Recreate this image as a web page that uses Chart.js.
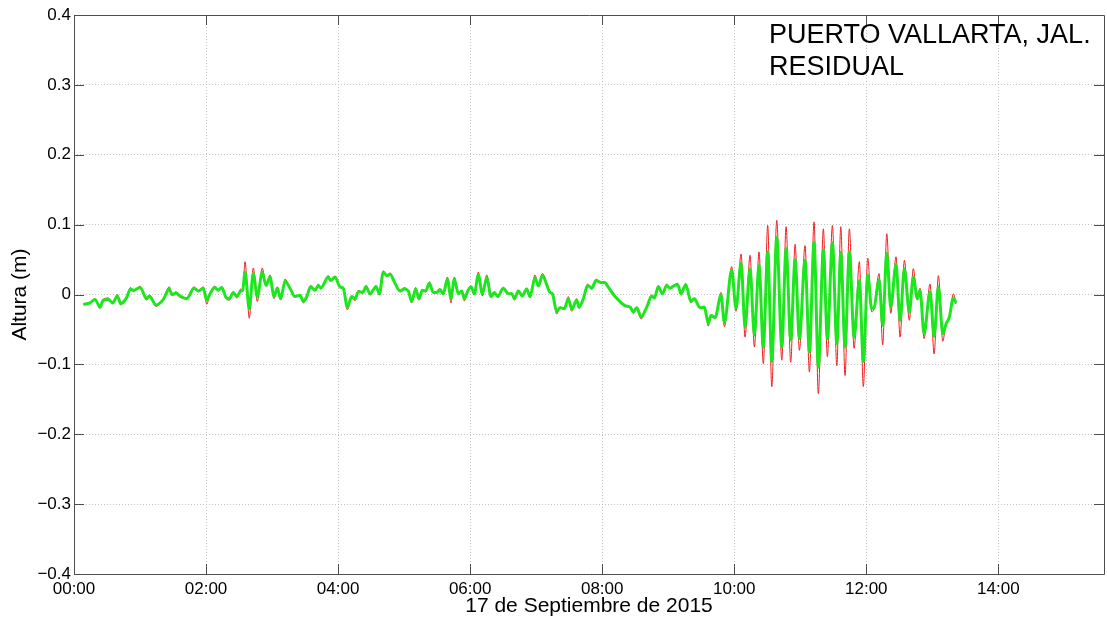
<!DOCTYPE html>
<html>
<head>
<meta charset="utf-8">
<script src="https://cdn.jsdelivr.net/npm/chart.js@4.4.1/dist/chart.umd.min.js"></script>
<style>
html,body{margin:0;padding:0;background:#fff;}
#c{display:block;}
</style>
</head>
<body>
<canvas id="c" width="1107" height="624"></canvas>
<script>
// time in minutes after 00:00, 17 Sept 2015
const minutes = [8.5,14.5,19.1,23.6,26.6,31.2,35.2,39.4,42.4,47.3,51.5,53.9,60.0,66.1,68.4,74.5,81.2,86.6,89.1,92.7,
96.3,102.4,109.1,113.0,117.5,120.6,123.6,128.1,131.1,134.2,138.1,141.1,144.8,147.9,151.5,153.3,155.4,159.3,162.9,166.6,
171.1,174.5,178.1,181.8,184.8,187.8,191.8,196.3,200.8,205.4,208.4,211.5,215.1,219.0,222.0,224.2,231.1,233.3,237.2,241.7,
244.7,248.4,252.4,255.4,258.4,262.4,265.4,269.0,274.5,277.5,281.1,284.2,287.2,291.7,296.3,300.2,303.8,306.9,310.5,313.5,
316.5,319.6,322.9,326.5,329.6,332.6,335.6,339.3,342.6,345.6,349.3,352.3,354.7,357.8,360.8,363.8,367.4,371.1,375.1,379.0,
382.0,385.1,390.1,394.7,397.8,400.2,403.8,407.4,411.4,414.4,418.9,422.0,425.6,432.6,434.7,438.7,441.7,445.6,449.2,452.3,
456.9,458.9,462.9,466.8,470.5,474.4,478.9,481.9,486.2,491.7,500.8,505.3,508.3,511.4,515.3,520.5,525.0,527.4,531.0,534.7,
538.6,541.6,544.6,548.6,551.6,555.9,560.7,563.7,568.9,572.8,576.4,578.9,582.5,588.0,591.0,597.7,601.6,606.2,609.8,614.3,
618.3,622.5,626.4,630.4,634.1,638.6,643.2,647.1,651.3,655.3,659.2,664.3,668.3,672.5,676.4,681.0,684.6,689.2,693.2,696.8,
700.7,704.6,708.9,713.7,717.3,721.3,724.9,727.0,731.6,734.9,738.6,742.2,747.0,750.7,754.6,759.1,762.7,766.4,768.8,772.5,
777.9,781.6,785.5,789.5,792.5,795.5,799.1,801.5];

// filtered residual (green)
const filtered = [-0.014,-0.012,-0.007,-0.018,-0.008,-0.007,-0.012,-0.002,-0.013,-0.006,0.008,0.006,0.010,-0.006,-0.002,-0.015,-0.007,0.008,0.000,0.002,
-0.002,-0.006,0.009,0.005,0.009,-0.008,0.001,0.010,0.006,0.010,-0.004,-0.006,0.003,-0.003,0.005,0.006,0.032,-0.020,0.030,-0.003,
0.032,0.013,0.025,-0.003,0.009,-0.006,0.019,0.009,-0.003,-0.001,-0.010,-0.003,0.011,0.006,0.013,0.009,0.025,0.020,0.025,0.011,
0.009,-0.018,-0.003,-0.006,0.004,0.003,0.011,0.001,0.011,0.001,0.032,0.027,0.029,0.016,0.005,0.008,0.005,-0.010,0.008,-0.006,
0.006,0.005,0.016,0.003,0.003,0.007,0.001,0.022,-0.005,0.022,0.001,0.005,-0.006,0.005,0.011,0.001,0.028,0.001,0.024,-0.003,
0.003,-0.003,0.009,0.001,0.001,-0.006,0.005,-0.002,0.008,-0.003,0.024,0.012,0.027,0.003,0.001,-0.024,-0.019,-0.020,-0.006,-0.021,
-0.008,-0.018,-0.006,0.013,0.009,0.020,0.017,0.017,0.009,-0.003,-0.016,-0.018,-0.025,-0.019,-0.032,-0.018,-0.002,-0.005,0.011,0.001,
0.013,0.009,0.012,0.014,0.001,0.014,-0.010,-0.006,-0.019,-0.018,-0.041,-0.030,-0.033,-0.001,-0.040,0.035,-0.020,0.045,-0.046,0.037,
-0.058,0.042,-0.075,0.061,-0.096,0.082,-0.075,0.066,-0.065,0.050,-0.063,0.049,-0.082,0.075,-0.104,0.064,-0.063,0.074,-0.070,0.060,
-0.075,0.061,-0.061,0.020,-0.096,0.028,-0.020,-0.019,0.021,-0.044,0.059,-0.018,0.043,-0.037,0.037,-0.025,0.025,-0.006,0.006,-0.056,
0.004,-0.060,0.011,-0.056,-0.042,-0.032,-0.005,-0.012];

// raw residual (red)
const raw = [-0.014,-0.013,-0.006,-0.020,-0.007,-0.005,-0.013,0.000,-0.015,-0.006,0.010,0.004,0.012,-0.008,-0.002,-0.017,-0.006,0.011,-0.002,0.004,
-0.004,-0.006,0.011,0.004,0.011,-0.014,0.002,0.012,0.005,0.011,-0.006,-0.008,0.004,-0.005,0.008,0.005,0.047,-0.034,0.038,-0.010,
0.038,0.012,0.028,-0.006,0.011,-0.008,0.022,0.009,-0.003,-0.001,-0.012,-0.003,0.013,0.005,0.015,0.008,0.027,0.019,0.026,0.010,
0.008,-0.022,-0.002,-0.009,0.006,0.002,0.013,-0.001,0.013,-0.001,0.034,0.026,0.031,0.015,0.004,0.010,0.004,-0.012,0.010,-0.008,
0.007,0.004,0.018,0.003,0.004,0.008,0.000,0.025,-0.012,0.025,0.000,0.006,-0.009,0.006,0.012,0.000,0.032,-0.002,0.028,-0.004,
0.004,-0.004,0.010,0.001,0.002,-0.008,0.006,-0.003,0.009,-0.004,0.028,0.011,0.030,0.003,0.000,-0.028,-0.018,-0.022,-0.003,-0.024,
-0.006,-0.020,-0.005,0.015,0.008,0.022,0.017,0.018,0.009,-0.003,-0.017,-0.018,-0.027,-0.018,-0.035,-0.017,-0.001,-0.006,0.013,0.000,
0.015,0.008,0.013,0.016,-0.001,0.016,-0.012,-0.005,-0.020,-0.017,-0.045,-0.029,-0.035,0.003,-0.046,0.040,-0.024,0.058,-0.061,0.056,
-0.075,0.061,-0.099,0.099,-0.132,0.106,-0.094,0.097,-0.097,0.072,-0.080,0.070,-0.111,0.104,-0.142,0.094,-0.089,0.099,-0.102,0.097,
-0.116,0.094,-0.077,0.047,-0.132,0.052,-0.025,-0.020,0.030,-0.072,0.087,-0.027,0.054,-0.061,0.049,-0.037,0.037,-0.008,0.009,-0.063,
0.015,-0.085,0.027,-0.067,-0.040,-0.034,0.001,-0.014];

const xTickMinutes = [0,120,240,360,480,600,720,840];
const yTicks = [-0.4,-0.3,-0.2,-0.1,0,0.1,0.2,0.3,0.4];
const xMax = 936;
const titleLines = ['PUERTO VALLARTA, JAL.', 'RESIDUAL'];
const xLabel = '17 de Septiembre de 2015';
const yLabel = 'Altura (m)';

const FONT = "'Liberation Sans', Arial, Helvetica, sans-serif";

function fmtX(v){ const h = Math.round(v/60); return (h<10?'0':'')+h+':00'; }
function fmtY(v){ const r = Math.round(v*10)/10; if (r===0) return '0'; return (r<0?'\u2212':'') + Math.abs(r).toFixed(1); }

const framePlugin = {
  id: 'frame',
  afterDraw(chart){
    const {ctx, chartArea:a, scales} = chart;
    ctx.save();
    ctx.strokeStyle = '#4d4d4d';
    ctx.lineWidth = 1;
    ctx.beginPath();
    ctx.rect(Math.round(a.left)+0.5, Math.round(a.top)+0.5, Math.round(a.right-a.left), Math.round(a.bottom-a.top));
    ctx.stroke();
    const L = 10;
    ctx.beginPath();
    xTickMinutes.forEach(m => {
      const px = Math.round(scales.x.getPixelForValue(m))+0.5;
      ctx.moveTo(px, a.bottom); ctx.lineTo(px, a.bottom-L);
      ctx.moveTo(px, a.top); ctx.lineTo(px, a.top+L);
    });
    yTicks.forEach(v => {
      const py = Math.round(scales.y.getPixelForValue(v))+0.5;
      ctx.moveTo(a.left, py); ctx.lineTo(a.left+L, py);
      ctx.moveTo(a.right, py); ctx.lineTo(a.right-L, py);
    });
    ctx.stroke();
    // annotation text
    ctx.fillStyle = '#000';
    ctx.font = '27px ' + FONT;
    ctx.textAlign = 'left';
    ctx.textBaseline = 'alphabetic';
    ctx.fillText(titleLines[0], 769, 43);
    ctx.fillText(titleLines[1], 769, 75);
    ctx.restore();
  }
};

new Chart(document.getElementById('c'), {
  type: 'line',
  data: {
    datasets: [
      {
        label: 'filtrado',
        data: minutes.map((m,i)=>({x:m, y:filtered[i]})),
        borderColor: '#1ee61e',
        borderWidth: 3,
        pointRadius: 0,
        cubicInterpolationMode: 'monotone',
        fill: false
      },
      {
        label: 'residual',
        data: minutes.map((m,i)=>({x:m, y:raw[i]})),
        borderColor: '#f02020',
        borderWidth: 1,
        pointRadius: 0,
        cubicInterpolationMode: 'monotone',
        fill: false
      }
    ]
  },
  plugins: [framePlugin],
  options: {
    responsive: false,
    animation: false,
    devicePixelRatio: 1,
    layout: { padding: { top: 15, right: 3, left: 0, bottom: 0 } },
    plugins: { legend: { display: false }, tooltip: { enabled: false } },
    scales: {
      x: {
        type: 'linear',
        min: 0, max: xMax,
        afterBuildTicks: s => { s.ticks = xTickMinutes.map(v => ({value: v})); },
        afterFit: s => { s.height = 50; },
        grid: { color: '#c4c4c4', lineWidth: 1, drawTicks: false },
        border: { display: false, dash: [1,2] },
        ticks: { color: '#000', font: { family: FONT, size: 17 }, padding: 5, maxRotation: 0, callback: v => fmtX(v) },
        title: { display: true, text: xLabel, color: '#000', font: { family: FONT, size: 21 }, padding: { top: 0, bottom: 5 } }
      },
      y: {
        min: -0.4, max: 0.4,
        afterBuildTicks: s => { s.ticks = yTicks.map(v => ({value: v})); },
        afterFit: s => { s.width = 74; },
        grid: { color: '#c4c4c4', lineWidth: 1, drawTicks: false },
        border: { display: false, dash: [1,2] },
        ticks: { color: '#000', font: { family: FONT, size: 17 }, padding: 3, callback: v => fmtY(v) },
        title: { display: true, text: yLabel, color: '#000', font: { family: FONT, size: 21 }, padding: { top: 8, bottom: 0 } }
      }
    }
  }
});
</script>
</body>
</html>
